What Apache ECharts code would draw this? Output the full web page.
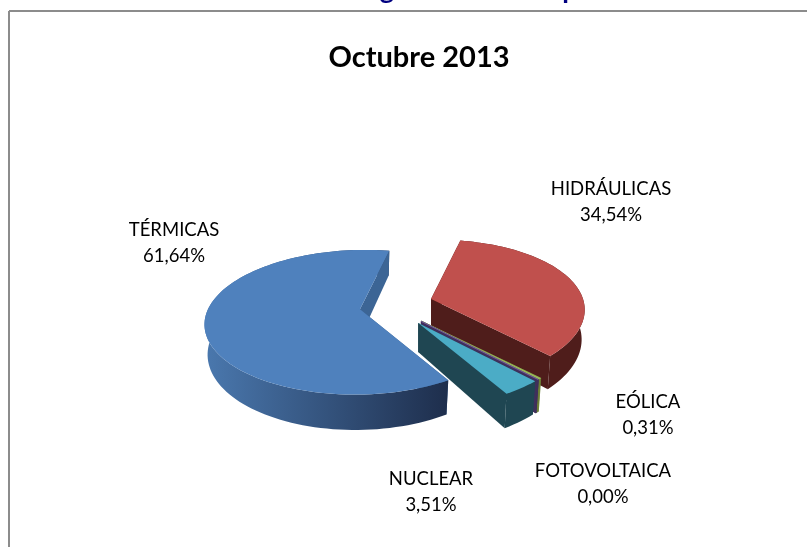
<!DOCTYPE html>
<html>
<head>
<meta charset="utf-8">
<title>Octubre 2013</title>
<style>
  html, body { margin: 0; padding: 0; background: #fff; }
  #chart { width: 807px; height: 547px; }
</style>
<script src="https://cdn.jsdelivr.net/npm/echarts@6/dist/echarts.min.js"></script>
</head>
<body>
<div id="chart"></div>
<script>
var categories = ['TÉRMICAS', 'HIDRÁULICAS', 'EÓLICA', 'FOTOVOLTAICA', 'NUCLEAR'];
var values = [61.64, 34.54, 0.31, 0.00, 3.51];
var chartTitle = 'Octubre 2013';

var topColors = ['#4F81BD', '#C0504D', '#9BBB59', '#8064A2', '#4BACC6'];
var cutColors = ['#3C6595', '#4F1D1B', '#6B7F35', '#3F2F5C', '#1F4652'];
var wallLeft = ['#4A78AE', '#4F1D1B', '#6B7F35', '#3F2F5C', '#1F4652'];
var wallRight = ['#1E2E4C', '#4F1D1B', '#6B7F35', '#3F2F5C', '#1F4652'];
var labelAnchors = [[174, 243], [611, 202], [648, 415], [603, 484], [431, 492]];

// pie geometry, the excel chart has perspective so near edge is longer than far edge
var firstAngle = 149;
var center = [396, 305.4];
var radiusX = 152;
var radiusY = 70;
var perspective = 0.18;
var skew = 5;
var depth = 29;
var explodeX = 36.6;
var explodeY = 22;

var total = values.reduce(function (a, b) { return a + b; }, 0);
var startAngles = [];
var acc = firstAngle;
values.forEach(function (v) {
  startAngles.push(acc);
  acc += v / total * 360;
});

function project(theta, apex, low) {
  var rad = theta * Math.PI / 180;
  var X = Math.sin(rad);
  var Z = -Math.cos(rad);
  var w = 1 - perspective * Z;
  var x = apex[0] + radiusX * X / w - skew * Z;
  var y = apex[1] + radiusY * Z / w;
  if (low) {
    x = apex[0] + (x - apex[0]) * 0.98;
    y += depth / w;
  }
  return [x, y];
}

function arcPoints(from, to, apex, low) {
  var pts = [];
  var steps = Math.max(1, Math.ceil((to - from) / 2));
  for (var i = 0; i <= steps; i++) {
    pts.push(project(from + (to - from) * i / steps, apex, low));
  }
  return pts;
}

function face(points, fill, stroke) {
  return {
    type: 'polygon',
    shape: { points: points },
    style: { fill: fill, stroke: stroke, lineWidth: stroke ? 0.6 : 0 }
  };
}

function renderSlice(params, api) {
  var i = params.dataIndex;
  var sweep = api.value(1) / total * 360;
  var from = startAngles[i];
  var to = from + sweep;
  var mid = (from + to) / 2 * Math.PI / 180;
  var apex = [center[0] + explodeX * Math.sin(mid), center[1] - explodeY * Math.cos(mid)];
  var apexLow = [apex[0], apex[1] + depth];

  var topArc = arcPoints(from, to, apex, false);
  var lowArc = arcPoints(from, to, apex, true);
  var wallFill = new echarts.graphic.LinearGradient(0, 0, 1, 0, [
    { offset: 0, color: wallLeft[i] },
    { offset: 1, color: wallRight[i] }
  ]);
  // thin slices need a stroke or they vanish, the 0,00% one is only a line
  var thin = sweep < 3;
  var edge = thin ? cutColors[i] : null;

  // closing cut goes after the rim wall, it is the one facing the viewer
  var children = [
    face([apex, topArc[0], lowArc[0], apexLow], cutColors[i], edge),
    face(topArc.concat(lowArc.slice().reverse()), wallFill, edge),
    face([apex, topArc[topArc.length - 1], lowArc[lowArc.length - 1], apexLow], cutColors[i], edge),
    face([apex].concat(topArc), topColors[i], thin ? topColors[i] : null)
  ];
  return { type: 'group', children: children };
}

var labelTexts = categories.map(function (c, i) {
  return {
    type: 'text',
    style: {
      text: c + '\n' + values[i].toFixed(2).replace('.', ',') + '%',
      x: labelAnchors[i][0],
      y: labelAnchors[i][1],
      align: 'center',
      verticalAlign: 'middle',
      font: '18.5px Lato',
      lineHeight: 26,
      fill: '#000'
    }
  };
});

var chart = echarts.init(document.getElementById('chart'));
chart.setOption({
  backgroundColor: '#fff',
  animation: false,
  title: {
    text: chartTitle,
    left: 414,
    top: 38,
    textAlign: 'center',
    textStyle: { fontFamily: 'Lato', fontSize: 29, fontWeight: 'bold', color: '#000' }
  },
  graphic: [
    // frame of the embedded chart, cut off by the screenshot on right and bottom
    { type: 'line', shape: { x1: 9, y1: 11, x2: 807, y2: 11 }, style: { stroke: '#8C8C8C', lineWidth: 2 } },
    { type: 'line', shape: { x1: 9, y1: 11, x2: 9, y2: 547 }, style: { stroke: '#8C8C8C', lineWidth: 2 } },
    // what is left of the page heading above the frame
    { type: 'text', style: { text: 'g', x: 387, y: 4, align: 'center', verticalAlign: 'bottom', font: 'bold 27px Lato', fill: '#000080' } },
    { type: 'text', style: { text: 'p', x: 570, y: 4, align: 'center', verticalAlign: 'bottom', font: 'bold 27px Lato', fill: '#000080' } }
  ].concat(labelTexts),
  series: [{
    type: 'custom',
    coordinateSystem: 'none',
    renderItem: renderSlice,
    data: categories.map(function (c, i) { return { name: c, value: [i, values[i]] }; })
  }]
});
</script>
</body>
</html>
